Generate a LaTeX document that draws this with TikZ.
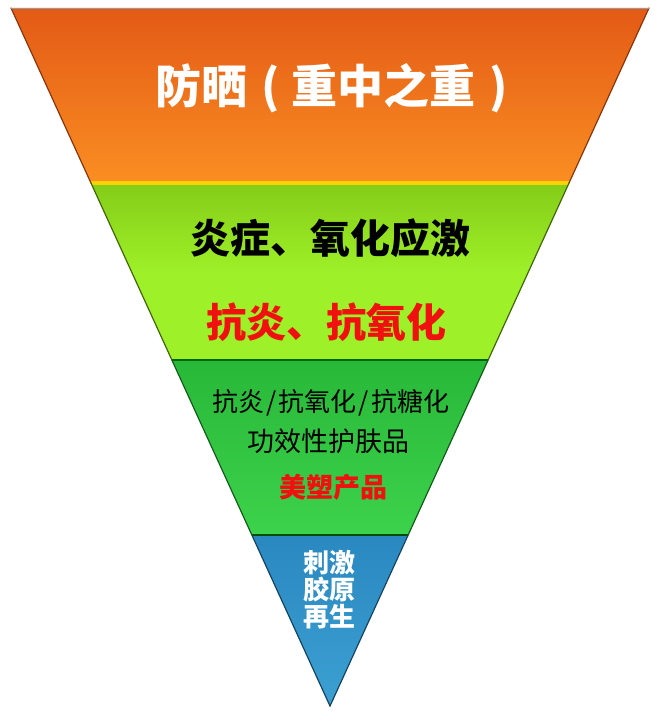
\documentclass[tikz,border=0pt]{standalone}
\usepackage{fontspec}
\newfontfamily\cjk{Noto Sans CJK SC}
\usetikzlibrary{calc}
\definecolor{orA}{HTML}{E35A16}
\definecolor{orB}{HTML}{FA8E22}
\definecolor{gA}{HTML}{84CC18}
\definecolor{gB}{HTML}{9EF028}
\definecolor{dA}{HTML}{28B838}
\definecolor{dB}{HTML}{3DD24C}
\definecolor{bA}{HTML}{2A88C0}
\definecolor{bB}{HTML}{3CA0D2}
\definecolor{txtred}{HTML}{F01010}
\tikzset{
  lbl/.style={inner sep=0pt, font=\cjk},
  big/.style={lbl, font=\cjk\bfseries\fontsize{40}{44}\selectfont},
  mid/.style={lbl, font=\cjk\fontsize{25}{28}\selectfont},
  midb/.style={lbl, font=\cjk\bfseries\fontsize{26}{28}\selectfont},
  edge/.style={line width=1.2pt, line cap=round}
}
\begin{document}
\begin{tikzpicture}[x=1pt,y=-1pt]
\useasboundingbox (0,0) rectangle (660,714);
\coordinate (TL) at (11,8);
\coordinate (TR) at (649,8);
\coordinate (AP) at (330,706);
\foreach \n/\y in {a/183,b/360,c/535}{
  \coordinate (L\n) at ({11+0.457020*(\y-8)},\y);
  \coordinate (R\n) at ({649-0.457020*(\y-8)},\y);
}
% bands
\begin{scope}
\clip (TL) -- (TR) -- (Ra) -- (La) -- cycle;
\shade[top color=orA, bottom color=orB] (0,8) rectangle (660,183);
\end{scope}
\begin{scope}
\clip (La) -- (Ra) -- (Rb) -- (Lb) -- cycle;
\shade[top color=gA, bottom color=gB, middle color=gB] (0,183) rectangle (660,360);
\end{scope}
\begin{scope}
\clip (Lb) -- (Rb) -- (Rc) -- (Lc) -- cycle;
\shade[top color=dA, bottom color=dB] (0,360) rectangle (660,535);
\end{scope}
\begin{scope}
\clip (Lc) -- (Rc) -- (AP) -- cycle;
\shade[top color=bA, bottom color=bB] (0,535) rectangle (660,706);
\end{scope}
% separators
\draw[line width=3pt, color=yellow!70!orange] (La) -- (Ra);
\draw[line width=1.5pt, color=green!40!black] (Lb) -- (Rb);
\draw[line width=1.5pt, color=green!30!black] (Lc) -- (Rc);
% outline
\draw[edge, color=orA!60!black] (TL) -- (La);
\draw[edge, color=orA!60!black] (TR) -- (Ra);
\draw[edge, color=gA!50!black] (La) -- (Lb);
\draw[edge, color=gA!50!black] (Ra) -- (Rb);
\draw[edge, color=dA!50!black] (Lb) -- (Lc);
\draw[edge, color=dA!50!black] (Rb) -- (Rc);
\draw[edge, color=bA!50!black] (Lc) -- (AP) -- (Rc);
\draw[line width=0.8pt, color=black!40] (TL) -- (TR);
% texts
\node[big, text=white, font=\cjk\bfseries\fontsize{46}{50}\selectfont] (t1) at (332,88) {防晒\hspace{14pt}(\hspace{12pt}重中之重\hspace{14pt})};
\node[big, text=black] (t2) at (330,238) {炎症、氧化应激};
\node[big, text=txtred] (t3) at (326,322) {抗炎、抗氧化};
\node[mid, text=black, font=\cjk\fontsize{26}{28}\selectfont] (t4) at (331,403) {抗炎\hspace{2pt}/\hspace{2pt}抗氧化\hspace{2pt}/\hspace{2pt}抗糖化};
\node[mid, text=black, font=\cjk\fontsize{27}{30}\selectfont] (t5) at (328,441) {功效性护肤品};
\node[midb, text=txtred, font=\cjk\bfseries\fontsize{27}{30}\selectfont] (t6) at (333,487) {美塑产品};
\node[midb, text=white, align=center, font=\cjk\bfseries\fontsize{26}{27}\selectfont] (t7) at (329,590) {刺激\\胶原\\再生};
\end{tikzpicture}
\end{document}
